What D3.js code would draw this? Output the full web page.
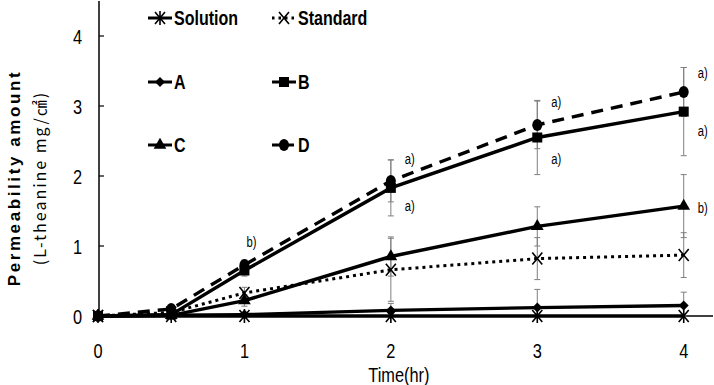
<!DOCTYPE html>
<html>
<head>
<meta charset="utf-8">
<script src="https://cdn.jsdelivr.net/npm/d3@7"></script>
<style>
  body { margin: 0; background: #fff; }
  svg { display: block; }
</style>
</head>
<body>
<div id="chart"></div>
<script>
var width = 714, height = 385;
var padding = { t: 1, r: 1, b: 68, l: 99 };
var chartWidth = width - padding.l - padding.r;
var chartHeight = height - padding.t - padding.b;

//Data
const times = [0, 0.5, 1, 2, 3, 4];
const xTicks = [0, 1, 2, 3, 4];
const yTicks = [0, 1, 2, 3, 4];
const solution = [0, 0, 0, 0, 0, 0];
const standard = [0, 0.05, 0.33, 0.66, 0.82, 0.87];
const seriesA = [0, 0.01, 0.02, 0.08, 0.12, 0.15];
const seriesB = [0, 0.02, 0.65, 1.83, 2.55, 2.92];
const seriesC = [0, 0.01, 0.22, 0.85, 1.28, 1.57];
const seriesD = [0, 0.1, 0.73, 1.93, 2.73, 3.2];
const errSolution = [0, 0, 0, 0, 0, 0];
const errStandard = [0, 0.02, 0.08, 0.45, 0.3, 0.32];
const errA = [0, 0, 0.02, 0.1, 0.26, 0.19];
const errB = [0, 0.02, 0.08, 0.4, 0.53, 0.63];
const errC = [0, 0.02, 0.08, 0.28, 0.28, 0.45];
const errD = [0, 0.03, 0.07, 0.3, 0.34, 0.35];

//significance letters: [time, value, label]
const sigLabels = [
    [1, 1.06, "b)"],
    [2, 2.25, "a)"], [2, 1.57, "a)"],
    [3, 3.06, "a)"], [3, 2.25, "a)"],
    [4, 3.47, "a)"], [4, 2.65, "a)"], [4, 1.54, "b)"]
];

const series = [
    { name: "Solution", values: solution, err: errSolution, marker: "asterisk", dash: null },
    { name: "Standard", values: standard, err: errStandard, marker: "x", dash: "dot" },
    { name: "A", values: seriesA, err: errA, marker: "diamond", dash: null },
    { name: "B", values: seriesB, err: errB, marker: "square", dash: null },
    { name: "C", values: seriesC, err: errC, marker: "triangle", dash: null },
    { name: "D", values: seriesD, err: errD, marker: "circle", dash: "dash" }
];

const sans = "'Liberation Sans', Arial, sans-serif";

const svg = d3.select("#chart").append("svg")
    .attr("width", width).attr("height", height);

const g = svg.append("g").attr("transform", `translate(${padding.l}, ${padding.t})`);

const xScale = d3.scaleLinear().domain([0, 4.2]).range([-1, chartWidth]);
const yScale = d3.scaleLinear().domain([0, 4.5]).range([chartHeight - 1, 0]);

//narrow-looking text: squeeze horizontally
function narrowText(sel, x, y, str, size, anchor, sx, weight) {
    return sel.append("text")
        .attr("transform", `translate(${x},${y}) scale(${sx},1)`)
        .attr("text-anchor", anchor)
        .style("font-family", sans).style("font-size", size + "px")
        .style("font-weight", weight || "normal")
        .text(str);
}

//axes
g.append("line").attr("x1", 0).attr("x2", 0).attr("y1", 0).attr("y2", yScale(0))
    .attr("stroke", "#000").attr("stroke-width", 1.5);
g.append("line").attr("x1", 0).attr("x2", chartWidth).attr("y1", yScale(0)).attr("y2", yScale(0))
    .attr("stroke", "#000").attr("stroke-width", 1.5);

yTicks.forEach(t => {
    g.append("line").attr("x1", 0).attr("x2", 5).attr("y1", yScale(t)).attr("y2", yScale(t))
        .attr("stroke", "#000").attr("stroke-width", 1.2);
    narrowText(g, -17, yScale(t) + 8, t, 21, "end", 0.78);
});
xTicks.forEach(t => {
    narrowText(g, xScale(t), 357, t, 21, "middle", 0.78);
});

narrowText(g, xScale(2) + 8, 381, "Time(hr)", 21, "middle", 0.78);

const yTitle = svg.append("text")
    .attr("transform", `translate(0, ${178}) rotate(-90)`)
    .attr("text-anchor", "middle");
yTitle.append("tspan").attr("x", 0).attr("y", 20)
    .style("font-family", sans).style("font-weight", "bold")
    .style("font-size", "17px").style("letter-spacing", "2.6px").text("Permeability amount");
yTitle.append("tspan").attr("x", 0).attr("y", 46)
    .style("font-family", "'Noto Sans CJK JP', 'Liberation Sans', sans-serif")
    .style("font-size", "16px").style("letter-spacing", "2px").text("(L-theanine mg/㎠)");

//marker drawing
function drawMarker(sel, type, x, y) {
    const m = sel.append("g").attr("transform", `translate(${x},${y})`);
    if (type === "square") {
        m.append("rect").attr("x", -5).attr("y", -5).attr("width", 10).attr("height", 10).attr("fill", "#000");
    } else if (type === "circle") {
        m.append("ellipse").attr("rx", 5).attr("ry", 6).attr("fill", "#000");
    } else if (type === "triangle") {
        m.append("path").attr("d", d3.symbol(d3.symbolTriangle, 70)()).attr("fill", "#000");
    } else if (type === "diamond") {
        m.append("path").attr("d", "M0,-5L5,0L0,5L-5,0Z").attr("fill", "#000");
    } else if (type === "x") {
        m.append("path").attr("d", "M-5,-6L5,6M-5,6L5,-6").attr("stroke", "#000").attr("stroke-width", 1.6).attr("fill", "none");
    } else if (type === "asterisk") {
        m.append("path").attr("d", "M-5,-6L5,6M-5,6L5,-6M0,-7L0,7").attr("stroke", "#000").attr("stroke-width", 1.6).attr("fill", "none");
    }
}

function dashArray(d) {
    if (d === "dot") return "3,4";
    if (d === "dash") return "12,8";
    return null;
}

//error bars
const errG = g.append("g");
series.forEach(s => {
    s.values.forEach((v, i) => {
        if (!s.err[i]) return;
        const x = xScale(times[i]);
        const y1 = yScale(v + s.err[i]), y2 = yScale(Math.max(0, v - s.err[i]));
        errG.append("line").attr("x1", x).attr("x2", x).attr("y1", y1).attr("y2", y2)
            .attr("stroke", "#7f7f7f").attr("stroke-width", 1);
        [y1, y2].forEach(y => errG.append("line").attr("x1", x - 3).attr("x2", x + 3)
            .attr("y1", y).attr("y2", y).attr("stroke", "#7f7f7f").attr("stroke-width", 1));
    });
});

//lines
const line = d3.line().x((d, i) => xScale(times[i])).y(d => yScale(d));
series.forEach(s => {
    g.append("path").datum(s.values).attr("d", line)
        .attr("fill", "none").attr("stroke", "#000")
        .attr("stroke-width", s.dash === "dot" ? 3 : 3.4)
        .attr("stroke-dasharray", dashArray(s.dash));
});

//markers
series.forEach(s => {
    s.values.forEach((v, i) => drawMarker(g, s.marker, xScale(times[i]), yScale(v)));
});

//significance letters
sigLabels.forEach(([t, v, lab]) => {
    narrowText(g, xScale(t) + (t === 1 ? 7 : 19), yScale(v) + 5, lab, 15, "middle", 0.75);
});

//legend
const legendCols = [148, 272];
const legendRows = [18, 82, 145];
series.forEach((s, i) => {
    const lx = legendCols[i % 2], ly = legendRows[Math.floor(i / 2)];
    const lg = svg.append("g");
    lg.append("line").attr("x1", lx).attr("x2", lx + 24).attr("y1", ly).attr("y2", ly)
        .attr("stroke", "#000").attr("stroke-width", 3)
        .attr("stroke-dasharray", s.dash === "dot" ? "2.5,4" : (s.dash === "dash" ? "9,4" : null));
    drawMarker(lg, s.marker, lx + 12, ly);
    narrowText(lg, lx + 26, ly + 7, s.name, 20, "start", 0.8, "bold");
});
</script>
</body>
</html>
